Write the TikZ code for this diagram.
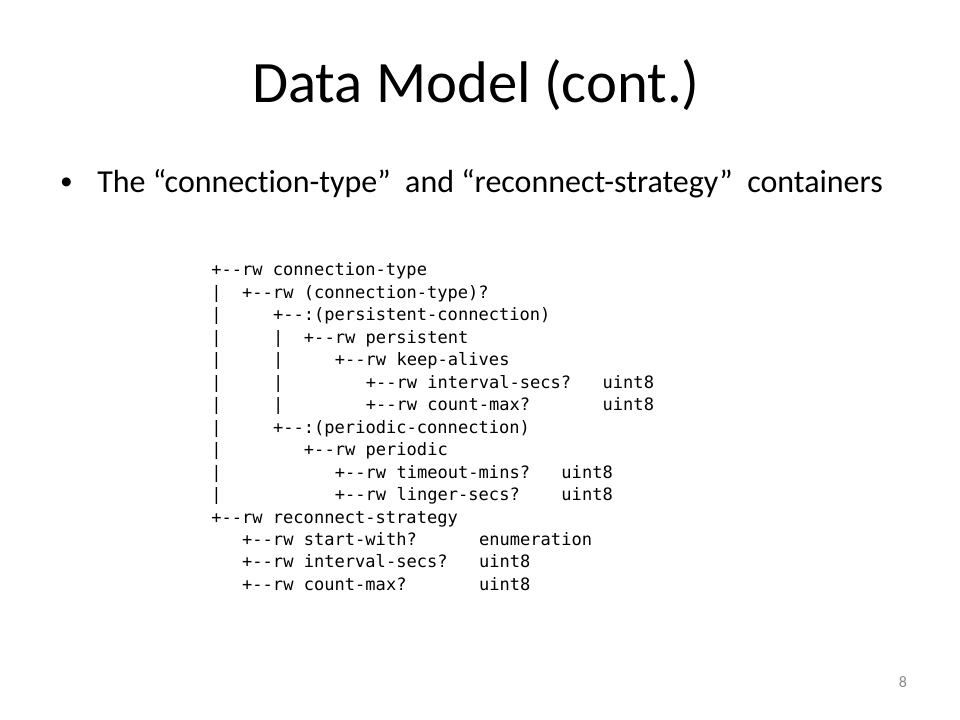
\documentclass[tikz,border=0pt]{standalone}
\usepackage{fontspec}
\setmainfont{Carlito}[Ligatures=NoCommon]
\setmonofont{DejaVu Sans Mono}
\definecolor{pagegray}{HTML}{898989}
\begin{document}
\begin{tikzpicture}[x=0.75pt, y=-0.75pt,
    title/.style={anchor=base, inner sep=0pt, font=\fontsize{44}{50}\selectfont},
    bullettext/.style={anchor=base west, inner sep=0pt, font=\fontsize{24}{29}\selectfont},
    bulletdot/.style={anchor=center, inner sep=0pt, font=\fontsize{19}{22}\selectfont},
    tree/.style={anchor=base west, inner sep=0pt, font=\fontsize{12.8}{15}\ttfamily},
    pagenum/.style={anchor=base, inner sep=0pt, text=pagegray, font=\fontsize{12}{14}\selectfont}]
                \useasboundingbox (0,0) rectangle (960,720);
                % heading
                \node[title] (title) at (476,103) {Data Model (cont.)};
                \node[bulletdot] (dot) at (66.5,183.5) {•};
                \node[bullettext] (bullet) at (97,193) {The “connection-type”\ \ and “reconnect-strategy”\ \ containers};
                % connection-type
                \node[tree] (r1) at (211,276) {+--rw connection-type};
                \node[tree] (r2) at (241.9,298.5) {+--rw (connection-type)?};
                \node[tree] (r3) at (272.8,320.9) {+--:(persistent-connection)};
                \node[tree] (r4) at (303.7,343.4) {+--rw persistent};
                \node[tree] (r5) at (334.6,365.8) {+--rw keep-alives};
                \node[tree] (r6) at (365.5,388.3) {+--rw interval-secs?};
                \node[tree] (t6) at (602.4,388.3) {uint8};
                \node[tree] (r7) at (365.5,410.7) {+--rw count-max?};
                \node[tree] (t7) at (602.4,410.7) {uint8};
                \node[tree] (r8) at (272.8,433.2) {+--:(periodic-connection)};
                \node[tree] (r9) at (303.7,455.6) {+--rw periodic};
                \node[tree] (r10) at (334.6,478.1) {+--rw timeout-mins?};
                \node[tree] (t10) at (561.2,478.1) {uint8};
                \node[tree] (r11) at (334.6,500.5) {+--rw linger-secs?};
                \node[tree] (t11) at (561.2,500.5) {uint8};
                % outer bars
                \node[tree] (b2) at (211,298.5) {|};
                \node[tree] (b3) at (211,320.9) {|};
                \node[tree] (b4) at (211,343.4) {|};
                \node[tree] (b5) at (211,365.8) {|};
                \node[tree] (b6) at (211,388.3) {|};
                \node[tree] (b7) at (211,410.7) {|};
                \node[tree] (b8) at (211,433.2) {|};
                \node[tree] (b9) at (211,455.6) {|};
                \node[tree] (b10) at (211,478.1) {|};
                \node[tree] (b11) at (211,500.5) {|};
                % inner bars
                \node[tree] (c4) at (272.8,343.4) {|};
                \node[tree] (c5) at (272.8,365.8) {|};
                \node[tree] (c6) at (272.8,388.3) {|};
                \node[tree] (c7) at (272.8,410.7) {|};
                % reconnect-strategy
                \node[tree] (r12) at (211,523) {+--rw reconnect-strategy};
                \node[tree] (r13) at (241.9,545.4) {+--rw start-with?};
                \node[tree] (t13) at (478.8,545.4) {enumeration};
                \node[tree] (r14) at (241.9,567.9) {+--rw interval-secs?};
                \node[tree] (t14) at (478.8,567.9) {uint8};
                \node[tree] (r15) at (241.9,590.3) {+--rw count-max?};
                \node[tree] (t15) at (478.8,590.3) {uint8};
                % slide number
                \node[pagenum] (page) at (903,687) {8};
              \end{tikzpicture}
\end{document}
